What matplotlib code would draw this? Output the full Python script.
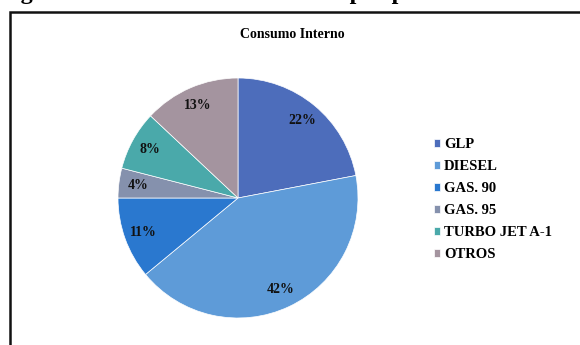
import matplotlib.pyplot as plt
from matplotlib.patches import Rectangle

# consumo interno por producto (%)
productos = ['GLP', 'DIESEL', 'GAS. 90', 'GAS. 95', 'TURBO JET A-1', 'OTROS']
participacion = [22, 42, 11, 4, 8, 13]
colores = ['#4d6dbb', '#5e9bd8', '#2a78cf', '#8591ad', '#4aa9aa', '#a4949f']

plt.rcParams['font.family'] = ['Liberation Serif', 'DejaVu Serif']

fig = plt.figure(figsize=(5.8, 3.45), dpi=100)
W, H = 580.0, 345.0

# caption line of the page, cut at the top edge
fig.text(-1 / W, 1.0 + 1.5 / H, 'Figura 3. Consumo interno anual por producto',
         fontsize=17.5, fontweight='bold', ha='left', va='baseline')

# chart frame
fig.patches.append(Rectangle((10 / W, -0.1), 1.2, (345 - 12) / H + 0.1,
                             transform=fig.transFigure, fill=False,
                             edgecolor='#111111', linewidth=1.8))

fig.text(292 / W, 1 - 35 / H, 'Consumo Interno', fontsize=10, fontweight='bold',
         ha='center', va='center')

ax = fig.add_axes([(238 - 120) / W, (345 - 318) / H, 240 / W, 240 / H])
wedges, texts, autotexts = ax.pie(participacion, colors=colores, startangle=90,
                                  counterclock=False, radius=1.0,
                                  autopct='%1.0f%%', pctdistance=0.84,
                                  wedgeprops=dict(linewidth=0.5, edgecolor='white'),
                                  textprops=dict(fontsize=10, fontweight='bold',
                                                 color='#111111'))
ax.set_xlim(-1, 1)
ax.set_ylim(-1, 1)

leg = fig.legend(wedges, productos, loc='upper left',
                 bbox_to_anchor=(428 / W, 1 - 132 / H), frameon=False,
                 prop=dict(size=10.5, weight='bold'), handlelength=0.45,
                 handleheight=0.45, handletextpad=0.25, labelspacing=0.62,
                 borderaxespad=0)

fig.savefig('out.png', dpi=100)
